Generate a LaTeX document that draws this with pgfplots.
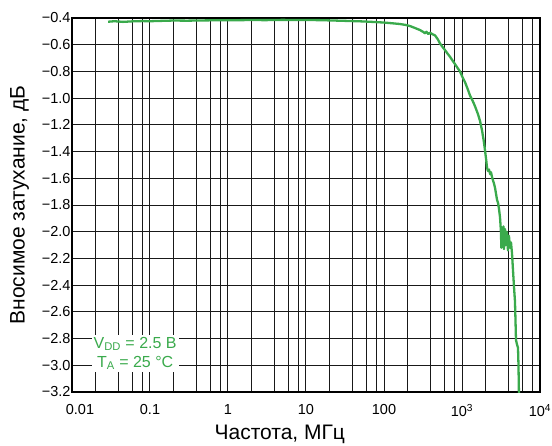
\documentclass[border=0pt]{standalone}
\usepackage{fontspec}
\setmainfont{Liberation Sans}
\usepackage{pgfplots}
\pgfplotsset{compat=1.18}
\definecolor{cgreen}{RGB}{58,170,76}
\begin{document}
\begin{tikzpicture}
\path[use as bounding box] (-72pt,-53pt) rectangle (480pt,392pt);
\begin{axis}[
  scale only axis, width=468pt, height=374pt,
  xmode=log, xmin=0.01, xmax=10000, ymin=-3.2, ymax=-0.4,
  xtick={0.01,0.1,1,10,100,1000,10000},
  xticklabels={\hspace*{16pt}0.01,0.1,1,10,100,10\textsuperscript{3},10\textsuperscript{4}},
  minor xtick={0.02,0.04,0.06,0.08,0.2,0.4,0.6,0.8,2,4,6,8,20,40,60,80,200,400,600,800,2000,4000,6000,8000},
  ytick={-3.2,-3.0,-2.8,-2.6,-2.4,-2.2,-2.0,-1.8,-1.6,-1.4,-1.2,-1.0,-0.8,-0.6,-0.4},
  yticklabels={−3.2,−3.0,−2.8,−2.6,−2.4,−2.2,−2.0,−1.8,−1.6,−1.4,−1.2,−1.0,−0.8,−0.6,−0.4},
  grid=both,
  major grid style={black!90, line width=1pt},
  minor grid style={black!90, line width=1pt},
  major tick length=0pt, minor tick length=0pt,
  axis line style={line width=1.8pt},
  tick label style={font=\fontsize{14.5}{16}\selectfont},
  xticklabel style={yshift=-9pt},
  yticklabel style={xshift=2pt},
  xlabel={Частота, МГц},
  ylabel={Вносимое затухание, дБ},
  xlabel style={at={(rel axis cs:0.444,-0.088)}, anchor=north, inner sep=0pt, font=\fontsize{21}{24}\selectfont},
  ylabel style={at={(rel axis cs:-0.1325,0.5)}, anchor=north, rotate=0, inner sep=0pt, font=\fontsize{21}{24}\selectfont},
]
\addplot[cgreen, line width=2.3pt, line join=round] coordinates {
(0.029,-0.428) (0.035,-0.424) (0.045,-0.429) (0.06,-0.425) (0.08,-0.423)
(0.1,-0.424) (0.15,-0.421) (0.2,-0.419) (0.3,-0.420) (0.5,-0.418)
(0.7,-0.417) (1,-0.417) (1.5,-0.416) (2,-0.415) (3,-0.416) (5,-0.414)
(7,-0.415) (10,-0.415) (15,-0.416) (20,-0.418) (30,-0.421) (50,-0.425)
(70,-0.429) (100,-0.434) (130,-0.44) (160,-0.445) (190,-0.452) (215,-0.46)
(250,-0.475) (289,-0.49) (320,-0.505) (336,-0.515) (350,-0.503) (370,-0.52)
(389,-0.51) (420,-0.522) (451,-0.53) (490,-0.56) (522,-0.59) (560,-0.615)
(605,-0.64) (650,-0.665) (701,-0.69) (760,-0.72) (812,-0.745) (880,-0.775)
(942,-0.80) (1010,-0.84) (1092,-0.88) (1180,-0.93) (1266,-0.98) (1370,-1.02)
(1467,-1.06) (1603,-1.12) (1701,-1.17) (1805,-1.24) (1900,-1.32) (1972,-1.39)
(2050,-1.47) (2093,-1.52) (2150,-1.545) (2219,-1.535) (2300,-1.57) (2355,-1.555)
(2450,-1.60) (2572,-1.64) (2649,-1.67) (2810,-1.76) (2900,-1.785) (2981,-1.83)
(3070,-1.89) (3150,-1.99) (3200,-2.12) (3259,-1.97) (3330,-2.10) (3400,-1.96)
(3455,-2.13) (3550,-1.98) (3664,-2.10) (3750,-2.0) (3887,-2.14) (4000,-2.03)
(4122,-2.12) (4250,-2.08) (4374,-2.16) (4508,-2.29) (4650,-2.42) (4776,-2.52)
(4850,-2.66) (4922,-2.81) (5050,-2.84) (5224,-2.87) (5300,-3.0) (5383,-3.25)
};
\node[fill=white, text=cgreen, align=center, inner sep=2pt, font=\fontsize{16}{19}\selectfont] at (rel axis cs:0.135,0.103) {V\textsubscript{DD} = 2.5 В\\T\textsubscript{A} = 25 °C};
\end{axis}
\end{tikzpicture}
\end{document}
